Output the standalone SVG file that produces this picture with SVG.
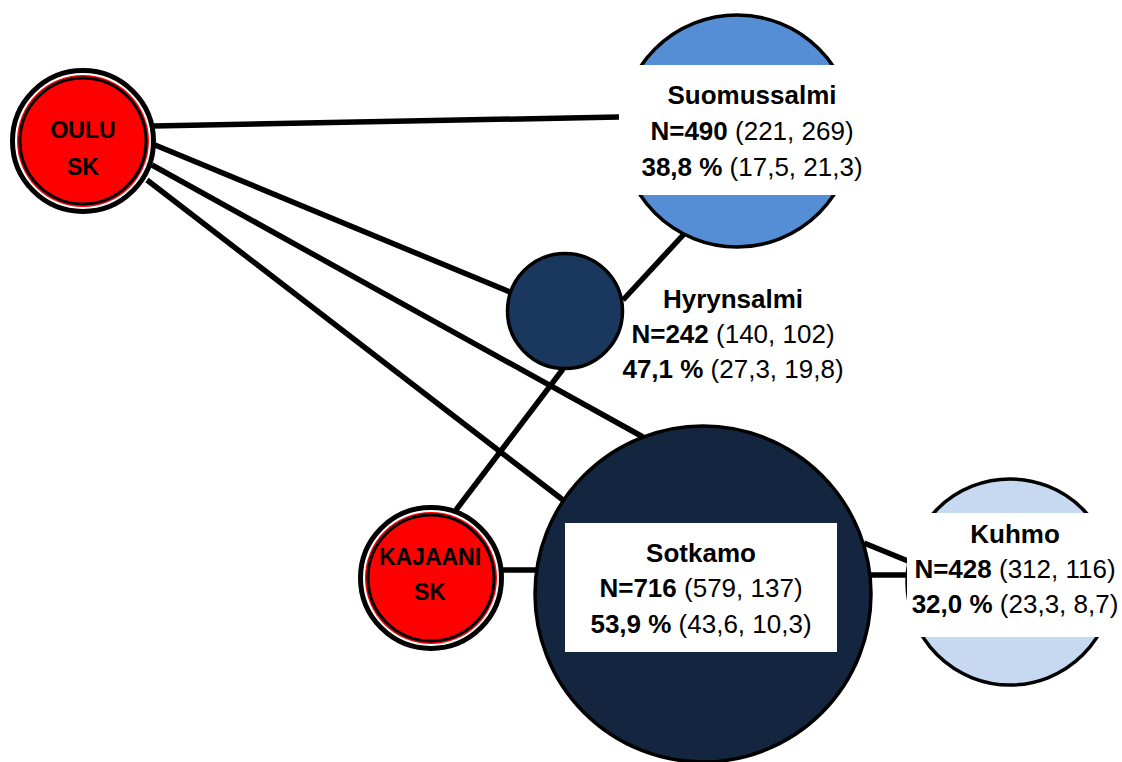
<svg xmlns="http://www.w3.org/2000/svg" width="1122" height="762" viewBox="0 0 1122 762">
<style>
.edge{stroke:#000;stroke-width:5.5;fill:none}
.ring{fill:#fff;stroke:#000;stroke-width:5}
.red{fill:#ff0000}
.inner{fill:#ff0000;stroke:#000;stroke-width:3}
.node{stroke:#000;stroke-width:3.5}
.box{fill:#fff}
.sk{font-family:"Liberation Sans",Arial,sans-serif;font-weight:bold;font-size:23px;fill:#000;text-anchor:middle}
.lbl{font-family:"Liberation Sans",Arial,sans-serif;font-size:26px;fill:#000;text-anchor:middle}
.b{font-weight:bold}
</style>
<rect width="1122" height="762" fill="#fff"/>
<g id="connectors">
<line class="edge" x1="153" y1="126" x2="619" y2="117"/>
<line class="edge" x1="155" y1="145" x2="510" y2="292"/>
<line class="edge" x1="152" y1="165" x2="643" y2="437"/>
<line class="edge" x1="147" y1="180" x2="563" y2="500"/>
<line class="edge" x1="623" y1="300" x2="685" y2="233"/>
<line class="edge" x1="563" y1="369" x2="456" y2="510"/>
<line class="edge" x1="502" y1="570" x2="536" y2="570"/>
<line class="edge" x1="864" y1="543" x2="908" y2="561"/>
<line class="edge" x1="870" y1="575" x2="908" y2="575"/>
</g>
<g id="oulu">
<circle class="ring" cx="83" cy="141" r="70.5"/>
<circle class="red" cx="83" cy="141" r="66"/>
<circle class="inner" cx="83" cy="141" r="63"/>
<text class="sk" x="83" y="138">OULU</text>
<text class="sk" x="83" y="175">SK</text>
</g>
<g id="kajaani">
<circle class="ring" cx="431" cy="578" r="70.5"/>
<circle class="red" cx="431" cy="578" r="66"/>
<circle class="inner" cx="431" cy="578" r="63"/>
<text class="sk" x="430" y="565">KAJAANI</text>
<text class="sk" x="430" y="600">SK</text>
</g>
<g id="suomussalmi">
<circle class="node" cx="737" cy="131" r="116" fill="#558ed5"/>
<rect class="box" x="619" y="65" width="261" height="130"/>
<text class="lbl b" x="752" y="104">Suomussalmi</text>
<text class="lbl" x="752" y="140"><tspan class="b">N=490</tspan> (221, 269)</text>
<text class="lbl" x="752" y="176"><tspan class="b">38,8 %</tspan> (17,5, 21,3)</text>
</g>
<g id="hyrynsalmi">
<circle class="node" cx="565" cy="311" r="57.5" fill="#1a375e"/>
<text class="lbl b" x="733" y="308">Hyrynsalmi</text>
<text class="lbl" x="733" y="343"><tspan class="b">N=242</tspan> (140, 102)</text>
<text class="lbl" x="733" y="378"><tspan class="b">47,1 %</tspan> (27,3, 19,8)</text>
</g>
<g id="sotkamo">
<circle class="node" cx="703" cy="594" r="168" fill="#13253f"/>
<rect class="box" x="565" y="523" width="272" height="129"/>
<text class="lbl b" x="701" y="562">Sotkamo</text>
<text class="lbl" x="701" y="597"><tspan class="b">N=716</tspan> (579, 137)</text>
<text class="lbl" x="701" y="633"><tspan class="b">53,9 %</tspan> (43,6, 10,3)</text>
</g>
<g id="kuhmo">
<circle class="node" cx="1010" cy="582" r="103" fill="#c6d9f1"/>
<rect class="box" x="907" y="513" width="215" height="124"/>
<text class="lbl b" x="1015" y="543">Kuhmo</text>
<text class="lbl" x="1015" y="578"><tspan class="b">N=428</tspan> (312, 116)</text>
<text class="lbl" x="1015" y="613"><tspan class="b">32,0 %</tspan> (23,3, 8,7)</text>
</g>
</svg>
